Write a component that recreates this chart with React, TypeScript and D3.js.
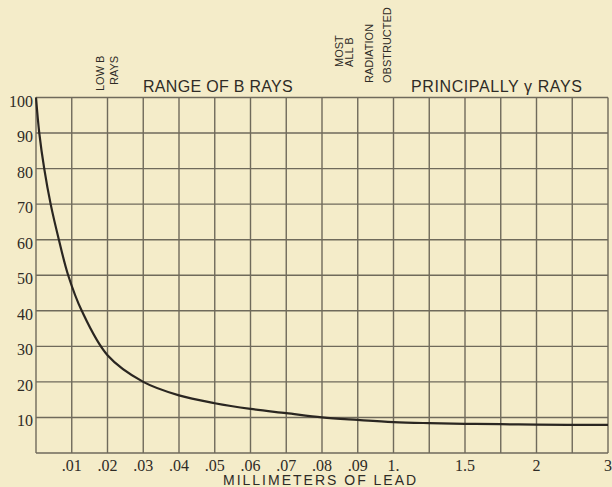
import { useEffect, useRef } from "react";
import * as d3 from "d3";

// grid lines along the lead axis (mm), evenly spaced on the paper
const gridMm = [0, 0.01, 0.02, 0.03, 0.04, 0.05, 0.06, 0.07, 0.08, 0.09, 1, 1.25, 1.5, 1.75, 2, 2.5, 3];
const xTickValues = [0.01, 0.02, 0.03, 0.04, 0.05, 0.06, 0.07, 0.08, 0.09, 1, 1.5, 2, 3];
const xTickLabels = [".01", ".02", ".03", ".04", ".05", ".06", ".07", ".08", ".09", "1.", "1.5", "2", "3"];
const yTicks = [10, 20, 30, 40, 50, 60, 70, 80, 90, 100];

// absorption curve
const leadMm = [0, 0.00092, 0.0023, 0.0041, 0.0064, 0.009, 0.0128, 0.02, 0.03, 0.04, 0.05, 0.06, 0.07, 0.08, 0.09, 1, 1.25, 1.5, 1.75, 2, 2.5, 3];
const percent = [100, 90, 80, 70, 60, 50, 40, 27.5, 20, 16.2, 14, 12.4, 11.2, 10, 9.3, 8.7, 8.4, 8.2, 8.1, 8.0, 7.9, 7.9];

const App = () => {
  const ref = useRef<SVGSVGElement>(null);

  useEffect(() => {
    const width = 612;
    const height = 487;
    const left = 36;
    const right = 608;
    const top = 97.5;
    const bottom = 453;
    const step = (right - left) / (gridMm.length - 1);

    const svg = d3.select(ref.current);
    svg.selectAll("*").remove();

    svg.append("rect").attr("width", width).attr("height", height).attr("fill", "#f4ecc9");

    const x = d3
      .scaleLinear()
      .domain(gridMm)
      .range(gridMm.map((_, i) => left + i * step));
    const y = d3.scaleLinear().domain([0, 100]).range([bottom, top]);

    const gridColor = "#6f6a5b";
    const g = svg.append("g");

    // vertical lines
    g.selectAll("line.v")
      .data(gridMm)
      .join("line")
      .attr("class", "v")
      .attr("x1", (d) => x(d))
      .attr("x2", (d) => x(d))
      .attr("y1", y(100))
      .attr("y2", y(0))
      .attr("stroke", gridColor)
      .attr("stroke-width", 1.4);

    // horizontal lines
    g.selectAll("line.h")
      .data([0, ...yTicks])
      .join("line")
      .attr("class", "h")
      .attr("x1", left)
      .attr("x2", right)
      .attr("y1", (d) => y(d))
      .attr("y2", (d) => y(d))
      .attr("stroke", gridColor)
      .attr("stroke-width", 1.4);

    // y labels
    svg
      .selectAll("text.yl")
      .data(yTicks)
      .join("text")
      .attr("class", "yl")
      .attr("x", 33)
      .attr("y", (d) => y(d) + 9)
      .attr("text-anchor", "end")
      .attr("font-family", "Liberation Serif")
      .attr("font-size", 16)
      .attr("fill", "#2e2b26")
      .text((d) => d);

    // x labels
    svg
      .selectAll("text.xl")
      .data(xTickValues)
      .join("text")
      .attr("class", "xl")
      .attr("x", (d) => x(d))
      .attr("y", 470.5)
      .attr("text-anchor", "middle")
      .attr("font-family", "Liberation Serif")
      .attr("font-size", 16)
      .attr("fill", "#2e2b26")
      .text((_, i) => xTickLabels[i]);

    svg
      .append("text")
      .attr("x", 223)
      .attr("y", 485)
      .attr("font-family", "Liberation Sans")
      .attr("font-size", 14)
      .attr("letter-spacing", 2)
      .attr("fill", "#2e2b26")
      .text("MILLIMETERS OF LEAD");

    // headings over the grid
    const heads = [
      { text: "RANGE OF B RAYS", x: 143, spacing: 0.3 },
      { text: "PRINCIPALLY γ RAYS", x: 411, spacing: 0.6 },
    ];
    svg
      .selectAll("text.hd")
      .data(heads)
      .join("text")
      .attr("class", "hd")
      .attr("x", (d) => d.x)
      .attr("y", 92)
      .attr("font-family", "Liberation Sans")
      .attr("font-size", 16)
      .attr("letter-spacing", (d) => d.spacing)
      .attr("fill", "#2e2b26")
      .text((d) => d.text);

    // upright notes
    const notes = [
      { text: "LOW B", x: 104, y: 91 },
      { text: "RAYS", x: 117.5, y: 85 },
      { text: "MOST", x: 343, y: 67 },
      { text: "ALL B", x: 353, y: 67 },
      { text: "RADIATION", x: 373, y: 83 },
      { text: "OBSTRUCTED", x: 391, y: 83 },
    ];
    svg
      .selectAll("text.nt")
      .data(notes)
      .join("text")
      .attr("class", "nt")
      .attr("transform", (d) => `translate(${d.x},${d.y}) rotate(-90)`)
      .attr("text-anchor", "start")
      .attr("font-family", "Liberation Sans")
      .attr("font-size", 11)
      .attr("fill", "#2e2b26")
      .text((d) => d.text);

    const line = d3
      .line<number>()
      .x((d) => x(d))
      .y((_, i) => y(percent[i]))
      .curve(d3.curveCatmullRom.alpha(0.5));

    svg
      .append("path")
      .datum(leadMm)
      .attr("fill", "none")
      .attr("stroke", "#2a2621")
      .attr("stroke-width", 2.2)
      .attr("d", line);
  }, []);

  return (
    <div style={{ position: "absolute", left: 0, top: 0 }}>
      <svg ref={ref} width={612} height={487} style={{ display: "block" }}></svg>
    </div>
  );
};

export default App;
